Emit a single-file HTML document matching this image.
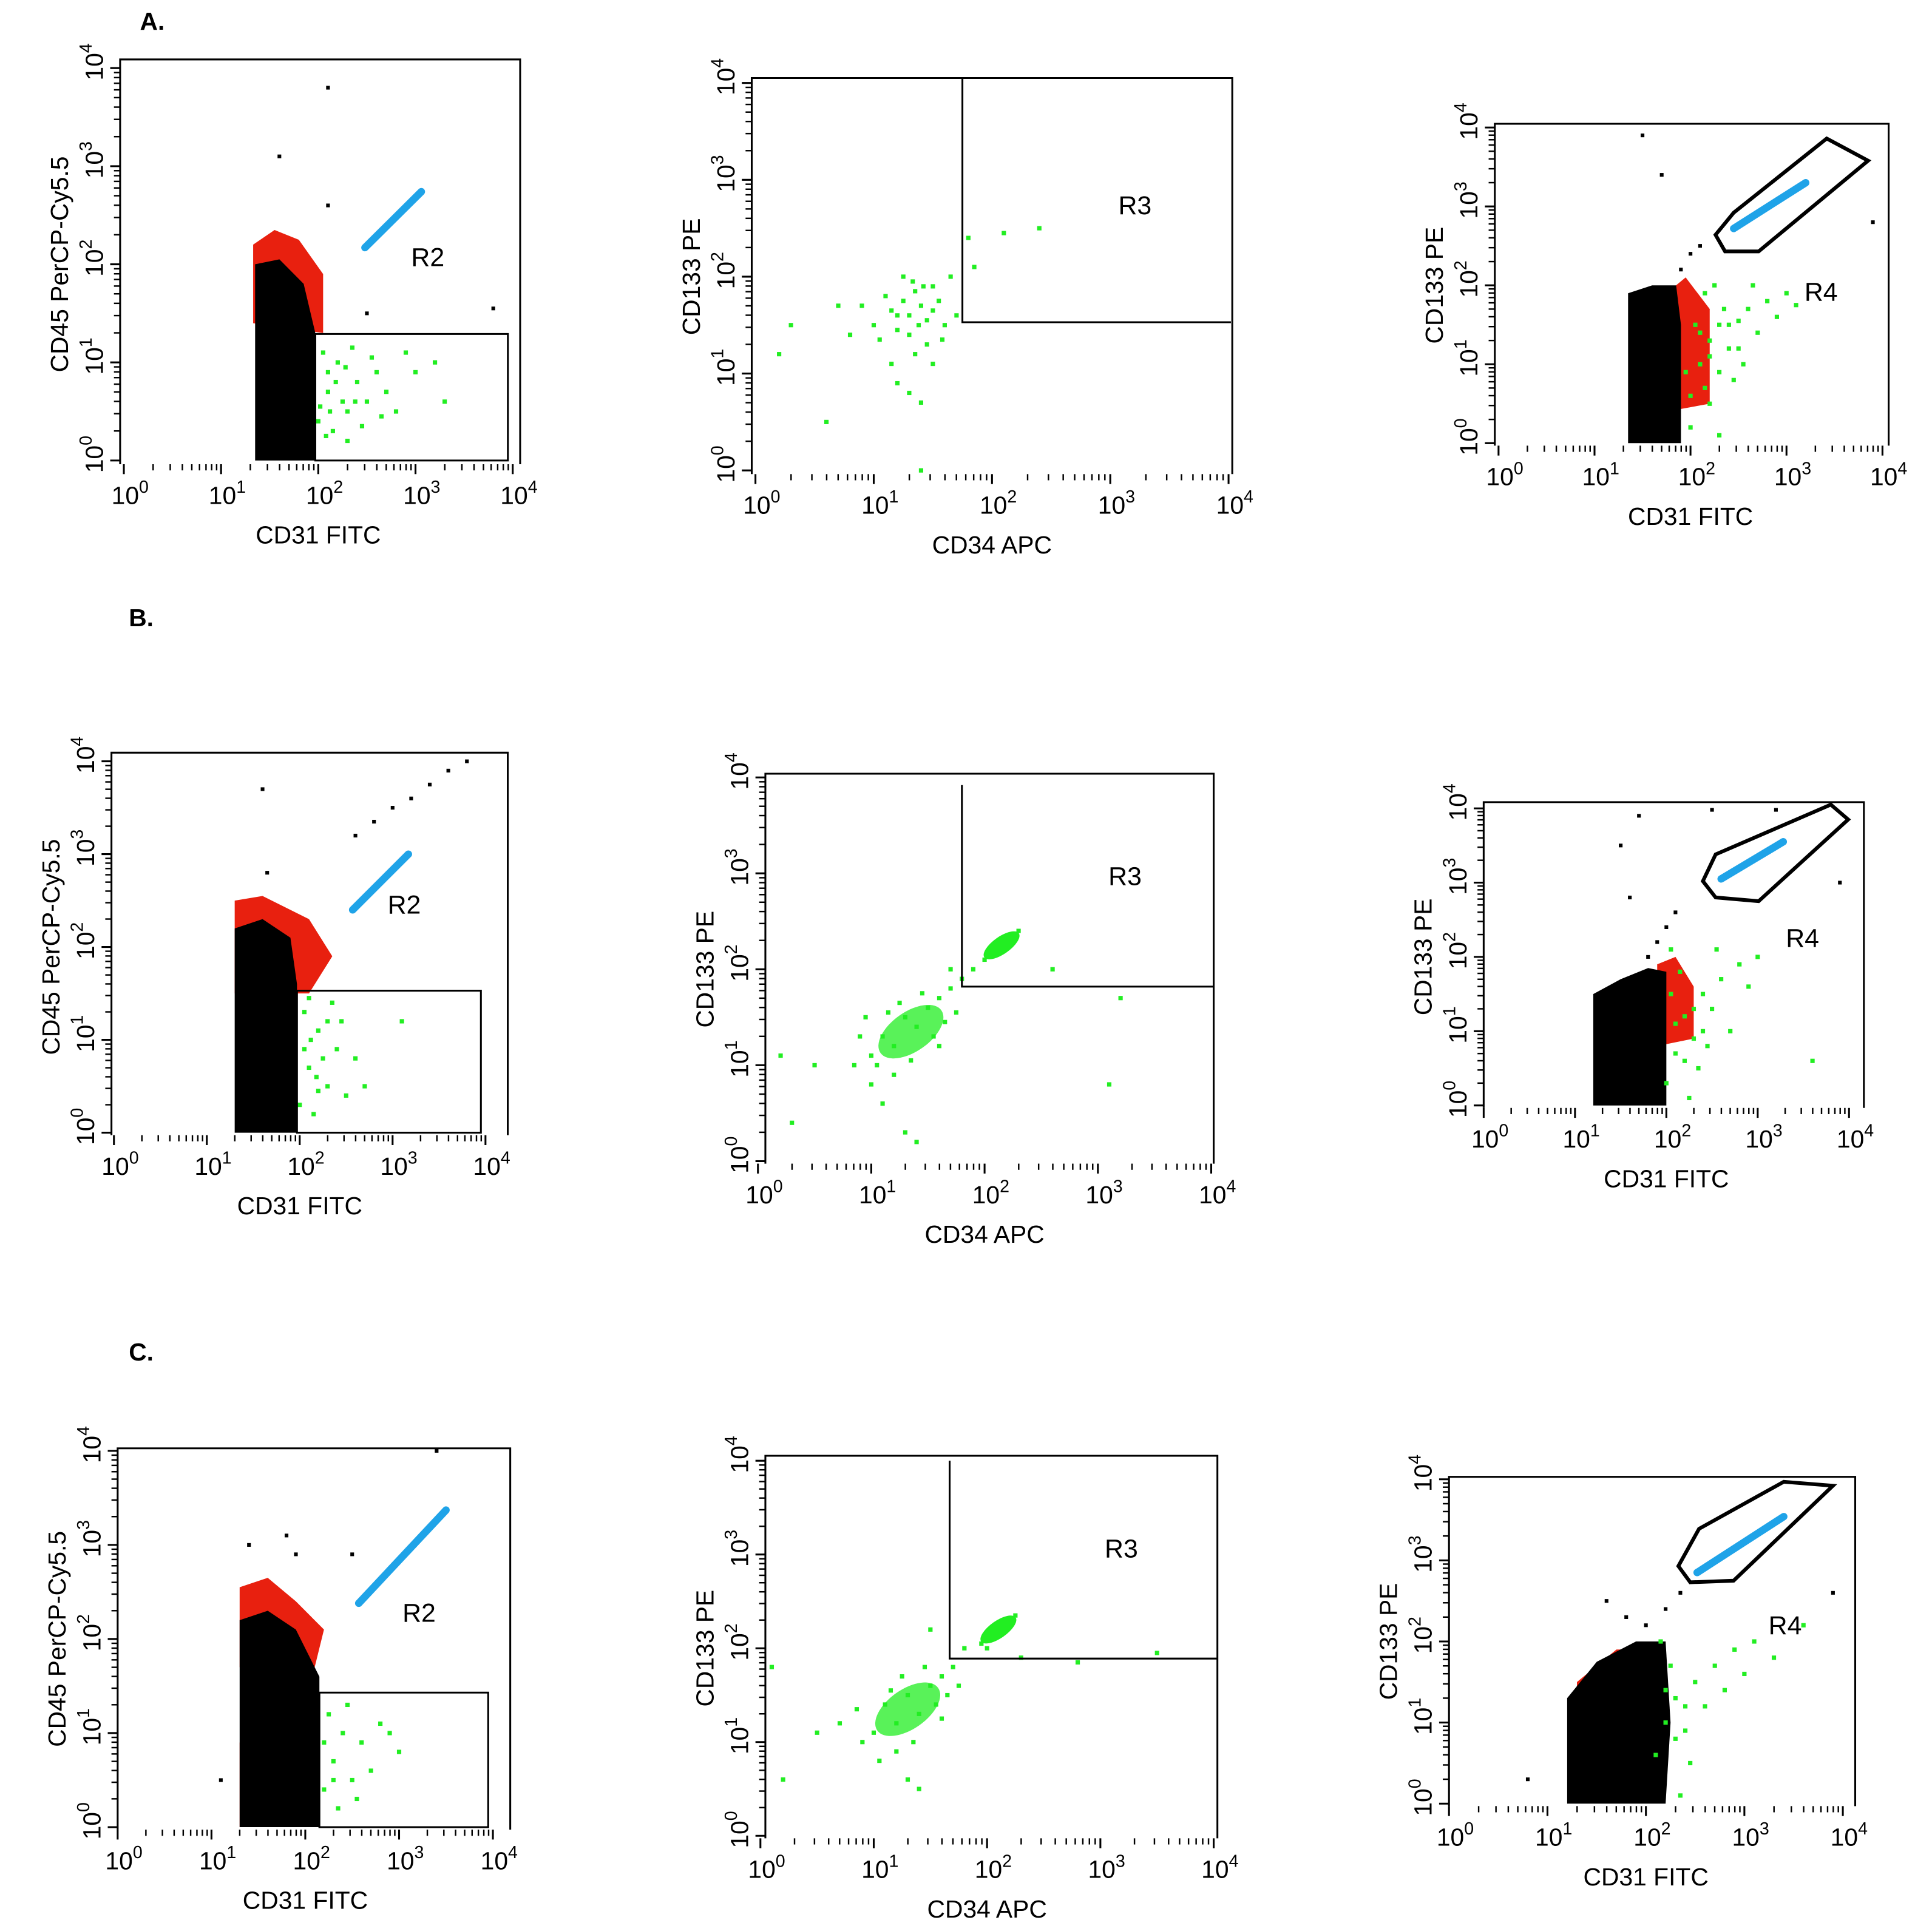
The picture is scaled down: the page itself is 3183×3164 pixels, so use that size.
<!DOCTYPE html>
<html><head><meta charset="utf-8"><style>
html,body{margin:0;padding:0;background:#fff;}
svg{display:block;font-family:"Liberation Sans",sans-serif;}
</style></head><body>
<svg id="fig" width="3183" height="3164" viewBox="0 0 1560 1551" preserveAspectRatio="none" xmlns="http://www.w3.org/2000/svg">
<text x="113" y="24" font-size="20" font-weight="bold">A.</text>
<text x="104" y="506" font-size="20" font-weight="bold">B.</text>
<text x="104" y="1099" font-size="20" font-weight="bold">C.</text>
</svg>
<script>
// ---- data (log10 units) ----
const decades = [0,1,2,3,4];
const tickLabels = ["0","1","2","3","4"];

const a1Black = [[1.35,0],[1.35,2.0],[1.6,2.05],[1.85,1.8],[1.97,1.3],[1.97,0]];
const a1Red = [[1.33,1.4],[1.33,2.2],[1.55,2.35],[1.8,2.25],[2.05,1.9],[2.05,1.3]];
const a1Blue = [[2.48,2.17],[3.06,2.74]];
const a1Green = [[2.0,0.4],[2.1,0.7],[2.2,1.0],[2.05,1.1],[2.3,0.5],[2.4,0.8],[2.5,0.6],[2.6,0.9],[2.15,0.3],[2.35,1.15],[2.7,0.7],[2.8,0.5],[3.0,0.9],[2.9,1.1],[2.25,0.6],[2.45,0.35],[2.55,1.05],[3.2,1.0],[2.1,0.9],[2.3,0.2],[3.3,0.6],[2.65,0.45],[2.02,0.55],[2.08,0.25],[2.12,0.5],[2.18,0.8],[2.28,0.95],[2.38,0.6]];
const a1Sparse = [[2.1,2.6],[1.6,3.1],[2.1,3.8],[3.8,1.55],[2.5,1.5]];
const a1Gate = [[1.97,0],[1.97,1.29],[3.95,1.29],[3.95,0]];

const a2Green = [[1.0,1.5],[1.1,1.8],[1.2,1.6],[1.3,1.4],[1.4,1.7],[1.5,1.9],[1.6,1.5],[1.35,1.2],[1.25,2.0],[1.45,1.3],[1.55,1.75],[1.15,1.1],[1.3,0.8],[1.4,0.7],[1.7,1.6],[0.9,1.7],[0.8,1.4],[1.65,2.0],[1.05,1.35],[1.5,1.1],[1.2,0.9],[1.35,1.85],[0.3,1.5],[0.2,1.2],[0.6,0.5],[0.7,1.7],[1.8,2.4],[2.1,2.45],[2.4,2.5],[1.85,2.1],[1.4,0.0],[1.3,1.6],[1.38,1.5],[1.45,1.55],[1.25,1.75],[1.5,1.65],[1.42,1.9],[1.2,1.45],[1.58,1.35],[1.33,1.95],[1.15,1.65]];
const a2Gate = [[1.75,4.05],[1.75,1.53],[4.02,1.53]];

const a3Black = [[1.35,0],[1.35,1.9],[1.6,2.0],[1.85,2.0],[1.9,1.5],[1.9,0]];
const a3Red = [[1.75,0.4],[1.75,1.9],[1.95,2.1],[2.2,1.7],[2.2,0.5]];
const a3Blue = [[2.45,2.72],[3.2,3.3]];
const a3Green = [[2.0,0.6],[2.1,1.0],[2.2,1.3],[2.3,0.9],[2.4,1.5],[2.5,1.2],[2.6,1.7],[2.7,1.4],[2.8,1.8],[2.9,1.6],[3.0,1.9],[2.2,0.5],[2.35,1.7],[2.05,1.5],[2.45,0.8],[2.15,1.9],[2.55,1.0],[2.25,2.0],[3.1,1.75],[2.0,0.2],[2.3,0.1],[2.65,2.0],[1.95,0.9],[2.1,1.4],[2.2,1.1],[2.3,1.5],[2.4,1.2],[2.15,0.7],[2.5,1.55]];
const a3Sparse = [[1.9,2.2],[2.0,2.4],[2.1,2.5],[1.7,3.4],[1.5,3.9],[3.9,2.8]];
const a3Gate = [[2.26,2.64],[2.45,2.92],[3.42,3.86],[3.85,3.58],[2.71,2.43],[2.36,2.43]];

const b1Black = [[1.3,0],[1.3,2.2],[1.6,2.3],[1.9,2.1],[1.97,1.6],[1.97,0]];
const b1Red = [[1.3,1.5],[1.3,2.5],[1.6,2.55],[2.1,2.3],[2.35,1.9],[2.1,1.5]];
const b1Blue = [[2.57,2.4],[3.17,3.0]];
const b1Green = [[2.0,0.3],[2.1,0.7],[2.2,1.1],[2.05,1.3],[2.3,0.5],[2.4,0.9],[2.5,0.4],[2.15,0.2],[2.35,1.4],[2.6,0.8],[2.25,0.8],[2.45,1.2],[2.1,1.45],[2.7,0.5],[3.1,1.2],[2.2,0.45],[2.05,0.9],[2.12,1.0],[2.3,1.2],[2.18,0.6]];
const b1Sparse = [[2.6,3.2],[2.8,3.35],[3.0,3.5],[3.2,3.6],[3.4,3.75],[3.6,3.9],[3.8,4.0],[1.6,3.7],[1.65,2.8]];
const b1Gate = [[1.97,0],[1.97,1.53],[3.95,1.53],[3.95,0]];

const b2Green = [[1.0,1.1],[1.1,1.3],[1.2,1.2],[1.3,1.5],[1.4,1.4],[1.5,1.6],[1.6,1.7],[1.7,1.8],[1.2,0.9],[1.0,0.8],[1.35,1.05],[1.55,1.3],[1.45,1.75],[0.85,1.0],[0.9,1.3],[1.65,1.45],[1.25,1.65],[1.75,1.55],[1.1,0.6],[1.3,0.3],[0.2,1.1],[0.3,0.4],[0.5,1.0],[1.4,0.2],[2.0,2.1],[2.1,2.25],[2.2,2.35],[2.3,2.4],[2.05,2.2],[2.25,2.3],[1.9,2.0],[2.6,2.0],[3.2,1.7],[3.1,0.8],[1.8,1.9],[1.7,2.0],[0.95,1.5],[1.15,1.55],[1.6,1.2],[1.05,1.0]];
const b2Dense = [[1.35,1.35],[2.15,2.25]];
const b2Gate = [[1.8,3.92],[1.8,1.82],[4.03,1.82]];

const b3Black = [[1.2,0],[1.2,1.5],[1.5,1.7],[1.8,1.85],[2.0,1.8],[2.0,0]];
const b3Red = [[1.9,0.8],[1.9,1.9],[2.1,2.0],[2.3,1.6],[2.3,0.9]];
const b3Blue = [[2.6,3.05],[3.28,3.55]];
const b3Green = [[2.0,0.3],[2.1,0.7],[2.2,1.2],[2.3,0.9],[2.4,1.5],[2.5,1.3],[2.6,1.7],[2.7,1.0],[2.8,1.9],[2.9,1.6],[3.0,2.0],[2.15,1.8],[2.35,0.5],[2.05,2.1],[2.45,0.8],[2.55,2.1],[3.6,0.6],[2.25,0.1],[2.1,1.1],[2.2,0.6],[2.3,1.3],[2.4,1.0],[2.05,1.5]];
const b3Sparse = [[1.8,2.0],[1.9,2.2],[2.0,2.4],[2.1,2.6],[1.7,3.9],[1.6,2.8],[1.5,3.5],[2.5,3.98],[3.2,3.98],[3.9,3.0]];
const b3Gate = [[2.4,3.02],[2.54,3.38],[3.8,4.05],[3.99,3.85],[3.01,2.75],[2.54,2.8]];

const c1Black = [[1.3,0],[1.3,2.2],[1.6,2.3],[1.9,2.1],[2.15,1.6],[2.15,0]];
const c1Red = [[1.3,1.7],[1.3,2.55],[1.6,2.65],[1.9,2.4],[2.2,2.1],[2.1,1.7]];
const c1Red2 = [[1.3,0],[1.3,0.9],[1.6,1.0],[2.0,0.8],[2.0,0]];
const c1Blue = [[2.57,2.38],[3.5,3.37]];
const c1Green = [[2.2,0.4],[2.3,0.7],[2.4,1.0],[2.25,1.2],[2.5,0.5],[2.6,0.9],[2.7,0.6],[2.35,0.2],[2.8,1.1],[2.45,1.3],[3.0,0.8],[2.9,1.0],[2.55,0.3],[2.2,0.9],[2.3,0.5]];
const c1Sparse = [[1.9,2.9],[1.4,3.0],[1.8,3.1],[2.5,2.9],[3.4,4.0],[1.1,0.5]];
const c1Gate = [[2.15,0],[2.15,1.43],[3.95,1.43],[3.95,0]];

const c2Green = [[1.0,1.1],[1.1,1.4],[1.2,1.2],[1.3,1.5],[1.4,1.3],[1.5,1.6],[1.6,1.7],[1.7,1.8],[1.2,0.9],[0.9,1.0],[1.35,1.0],[1.55,1.4],[1.45,1.8],[0.7,1.2],[0.5,1.1],[1.65,1.5],[1.25,1.7],[1.3,0.6],[1.4,0.5],[1.5,2.2],[1.8,2.0],[1.95,2.05],[2.05,2.15],[2.15,2.25],[2.25,2.35],[2.0,2.0],[2.3,1.9],[2.8,1.85],[3.5,1.95],[0.1,1.8],[0.2,0.6],[1.15,1.55],[0.85,1.35],[1.6,1.25],[1.05,0.8],[1.75,1.6]];
const c2Dense = [[1.3,1.35],[2.1,2.2]];
const c2Gate = [[1.67,4.0],[1.67,1.89],[4.03,1.89]];

const c3Black = [[1.2,0],[1.2,1.3],[1.5,1.75],[1.9,2.0],[2.2,2.0],[2.25,1.0],[2.2,0]];
const c3Red = [[1.3,0.1],[1.3,1.5],[1.7,1.9],[2.2,1.9],[2.2,0.2]];
const c3Blue = [[2.52,2.85],[3.4,3.54]];
const c3Green = [[2.1,0.6],[2.2,1.0],[2.3,1.3],[2.4,0.9],[2.5,1.5],[2.6,1.2],[2.7,1.7],[2.8,1.4],[2.9,1.9],[3.0,1.6],[3.1,2.0],[2.25,1.7],[2.45,0.5],[2.15,2.0],[2.35,0.1],[3.3,1.8],[3.6,2.2],[2.2,1.4],[2.3,0.8],[2.4,1.2]];
const c3Sparse = [[1.6,2.5],[1.8,2.3],[2.0,2.2],[2.2,2.4],[2.35,2.6],[3.9,2.6],[0.8,0.3]];
const c3Gate = [[2.33,2.93],[2.54,3.39],[3.4,3.97],[3.9,3.92],[2.89,2.75],[2.45,2.73]];

// ---- layout (pixel frames, display units) ----
const panels = [
 {id:"a1",fx:[100,414],fy:[372,55],box:[97,48,420,375],xt:"CD31 FITC",yt:"CD45 PerCP-Cy5.5",black:a1Black,red:[a1Red],blue:a1Blue,green:a1Green,sparse:a1Sparse,gate:a1Gate,gateType:"closed",lab:"R2",lx:332,ly:215},
 {id:"a2",fx:[610,992],fy:[380,67],box:[607,63,995,383],xt:"CD34 APC",yt:"CD133 PE",green:a2Green,gate:a2Gate,gateType:"open",lab:"R3",lx:903,ly:173},
 {id:"a3",fx:[1210,1520],fy:[358,103],box:[1207,100,1525,360],xt:"CD31 FITC",yt:"CD133 PE",black:a3Black,red:[a3Red],blue:a3Blue,green:a3Green,sparse:a3Sparse,gate:a3Gate,gateType:"closed",lab:"R4",lx:1457,ly:243},
 {id:"b1",fx:[92,392],fy:[915,615],box:[90,608,410,917],xt:"CD31 FITC",yt:"CD45 PerCP-Cy5.5",black:b1Black,red:[b1Red],blue:b1Blue,green:b1Green,sparse:b1Sparse,gate:b1Gate,gateType:"closed",lab:"R2",lx:313,ly:738},
 {id:"b2",fx:[612,978],fy:[938,628],box:[618,625,980,940],xt:"CD34 APC",yt:"CD133 PE",green:b2Green,dense:b2Dense,gate:b2Gate,gateType:"open",lab:"R3",lx:895,ly:715},
 {id:"b3",fx:[1198,1493],fy:[893,653],box:[1198,648,1505,895],xt:"CD31 FITC",yt:"CD133 PE",black:b3Black,red:[b3Red],blue:b3Blue,green:b3Green,sparse:b3Sparse,gate:b3Gate,gateType:"closed",lab:"R4",lx:1442,ly:765},
 {id:"c1",fx:[95,398],fy:[1476,1172],box:[95,1170,412,1478],xt:"CD31 FITC",yt:"CD45 PerCP-Cy5.5",black:c1Black,red:[c1Red,c1Red2],blue:c1Blue,green:c1Green,sparse:c1Sparse,gate:c1Gate,gateType:"closed",lab:"R2",lx:325,ly:1310},
 {id:"c2",fx:[614,980],fy:[1483,1180],box:[618,1176,983,1485],xt:"CD34 APC",yt:"CD133 PE",green:c2Green,dense:c2Dense,gate:c2Gate,gateType:"open",lab:"R3",lx:892,ly:1258},
 {id:"c3",fx:[1170,1488],fy:[1457,1195],box:[1170,1193,1498,1459],xt:"CD31 FITC",yt:"CD133 PE",black:c3Black,red:[c3Red],blue:c3Blue,green:c3Green,sparse:c3Sparse,gate:c3Gate,gateType:"closed",lab:"R4",lx:1428,ly:1320}
];

const NS="http://www.w3.org/2000/svg";
const svg=document.getElementById("fig");
function mk(tag,attrs,parent){const e=document.createElementNS(NS,tag);for(const k in attrs)e.setAttribute(k,attrs[k]);(parent||svg).appendChild(e);return e;}

panels.forEach(p=>{
 const g=mk("g",{});
 
 
 const X=v=>p.fx[0]+(p.fx[1]-p.fx[0])*v/4;
 const Y=v=>p.fy[0]+(p.fy[1]-p.fy[0])*v/4;
 const pts=arr=>arr.map(q=>X(q[0]).toFixed(1)+","+Y(q[1]).toFixed(1)).join(" ");
 const [L,T,R,B]=p.box;
 const fr=mk("path",{d:`M${L},${B} L${L},${T} L${R},${T} L${R},${B}`,fill:"none",stroke:"#000","stroke-width":1.5},g);
 
 
 if(p.red){p.red.forEach(r=>{const e=mk("polygon",{points:pts(r),fill:"#e8200f"},g);
  
  });}
 if(p.black){const e=mk("polygon",{points:pts(p.black),fill:"#000"},g);
  
  }
 if(p.dense){const c=p.dense;
  const e=mk("ellipse",{cx:X(c[0][0]),cy:Y(c[0][1]),rx:30,ry:16,fill:"#22ee22",opacity:0.75,transform:`rotate(-35 ${X(c[0][0])} ${Y(c[0][1])})`},g);
  
  
  const e2=mk("ellipse",{cx:X(c[1][0]),cy:Y(c[1][1]),rx:17,ry:7,fill:"#22ee22",transform:`rotate(-35 ${X(c[1][0])} ${Y(c[1][1])})`},g);
  
  }
 if(p.green){p.green.forEach(q=>{const d=mk("rect",{x:X(q[0])-1.75,y:Y(q[1])-1.75,width:3.5,height:3.5,fill:"#22ee22"},g);
  
  });}
 if(p.sparse){p.sparse.forEach(q=>{const d=mk("rect",{x:X(q[0])-1.5,y:Y(q[1])-1.5,width:3,height:3,fill:"#000"},g);
  
  });}
 if(p.blue){const b=p.blue;
  const e=mk("line",{x1:X(b[0][0]),y1:Y(b[0][1]),x2:X(b[1][0]),y2:Y(b[1][1]),stroke:"#1fa3e8","stroke-width":6,"stroke-linecap":"round"},g);
  
  }
 if(p.gate){const gt=p.gateType==="closed"?mk("polygon",{points:pts(p.gate),fill:"none",stroke:"#000","stroke-width":p.gate.length>4?3:1.5},g):mk("polyline",{points:pts(p.gate),fill:"none",stroke:"#000","stroke-width":1.5},g);
  
  
  const t=mk("text",{x:p.lx,y:p.ly,"font-size":21},g);t.textContent=p.lab;
  
  }
 decades.forEach((d,i)=>{
  const x=X(d),y=Y(d);
  mk("line",{x1:x,y1:B,x2:x,y2:B+8,stroke:"#000","stroke-width":1.5},g);
  mk("line",{x1:L,y1:y,x2:L-8,y2:y,stroke:"#000","stroke-width":1.5},g);
  if(d<4){for(let m=2;m<10;m++){const xm=X(d+Math.log10(m)),ym=Y(d+Math.log10(m));
   mk("line",{x1:xm,y1:B,x2:xm,y2:B+5,stroke:"#000","stroke-width":1.2},g);
   mk("line",{x1:L,y1:ym,x2:L-5,y2:ym,stroke:"#000","stroke-width":1.2},g);}}
  const tx=mk("text",{x:x-10,y:B+32,"font-size":20},g);
  tx.innerHTML='10<tspan font-size="14" dy="-9">'+tickLabels[i]+'</tspan>';
  
  
  const ty=mk("text",{x:0,y:0,"font-size":20,transform:`translate(${L-14},${y+10}) rotate(-90)`},g);
  ty.innerHTML='10<tspan font-size="14" dy="-9">'+tickLabels[i]+'</tspan>';
  
  
 });
 const xt=mk("text",{x:(p.fx[0]+p.fx[1])/2,y:B+64,"font-size":20,"text-anchor":"middle"},g);xt.textContent=p.xt;
 
 
 const yt=mk("text",{x:0,y:0,"font-size":20,"text-anchor":"middle",transform:`translate(${L-42},${(p.fy[0]+p.fy[1])/2}) rotate(-90)`},g);yt.textContent=p.yt;
 
 
});
</script>
</body></html>
